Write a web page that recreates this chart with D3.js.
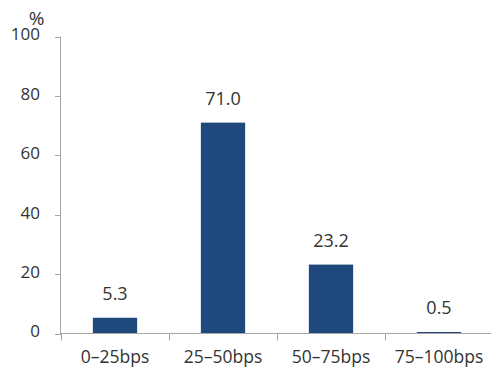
<!DOCTYPE html>
<html><head><meta charset="utf-8">
<script src="https://cdn.jsdelivr.net/npm/d3@7"></script>
<style>body{margin:0;background:#fff;} text{font-family:"Open Sans",sans-serif;fill:#333;}</style>
</head><body><svg id="c" width="491" height="369"></svg>
<script>
const categories = ["0\u201325bps","25\u201350bps","50\u201375bps","75\u2013100bps"];
const values = [5.3, 71.0, 23.2, 0.5];
const yTicks = [0, 20, 40, 60, 80, 100];

const svg = d3.select("#c");
const x = d3.scaleBand().domain(categories).range([61, 493]).paddingInner(0.59).paddingOuter(0.295);
const y = d3.scaleLinear().domain([0, 100]).range([333.5, 36.5]);
const grey = "#a6a6a6";

// bars
svg.selectAll("rect.bar").data(values).enter().append("rect")
  .attr("x",(d,i)=>x(categories[i])).attr("width",x.bandwidth())
  .attr("y",d=>y(d)).attr("height",d=>y(0)-y(d)).attr("fill","#1f487c");
svg.selectAll("text.lab").data(values).enter().append("text")
  .attr("x",(d,i)=>x(categories[i])+x.bandwidth()/2).attr("y",d=>y(d)-18)
  .attr("text-anchor","middle").attr("font-size",18).text(d=>d.toFixed(1));

// y axis
svg.append("line").attr("x1",60.5).attr("x2",60.5).attr("y1",y(100)).attr("y2",y(0)).attr("stroke",grey);
yTicks.forEach(t=>{
  svg.append("line").attr("x1",55).attr("x2",61).attr("y1",Math.round(y(t))+0.5).attr("y2",Math.round(y(t))+0.5).attr("stroke",grey);
  svg.append("text").attr("x",40).attr("y",y(t)-2).attr("dy","0.35em").attr("text-anchor","end").attr("font-size",17).text(t);
});
svg.append("text").attr("x",36.5).attr("y",24.5).attr("text-anchor","middle").attr("font-size",19).text("%");

// x axis
svg.append("line").attr("x1",60).attr("x2",491).attr("y1",y(0)).attr("y2",y(0)).attr("stroke",grey);
categories.forEach((c,i)=>{
  const bx = x(c) - x.step()*x.paddingInner()/2;
  svg.append("line").attr("x1",Math.round(bx)+0.5).attr("x2",Math.round(bx)+0.5).attr("y1",y(0)).attr("y2",y(0)+7).attr("stroke",grey);
  svg.append("text").attr("x",x(c)+x.bandwidth()/2).attr("y",363).attr("text-anchor","middle").attr("font-size",17.5).text(c);
});
</script></body></html>
